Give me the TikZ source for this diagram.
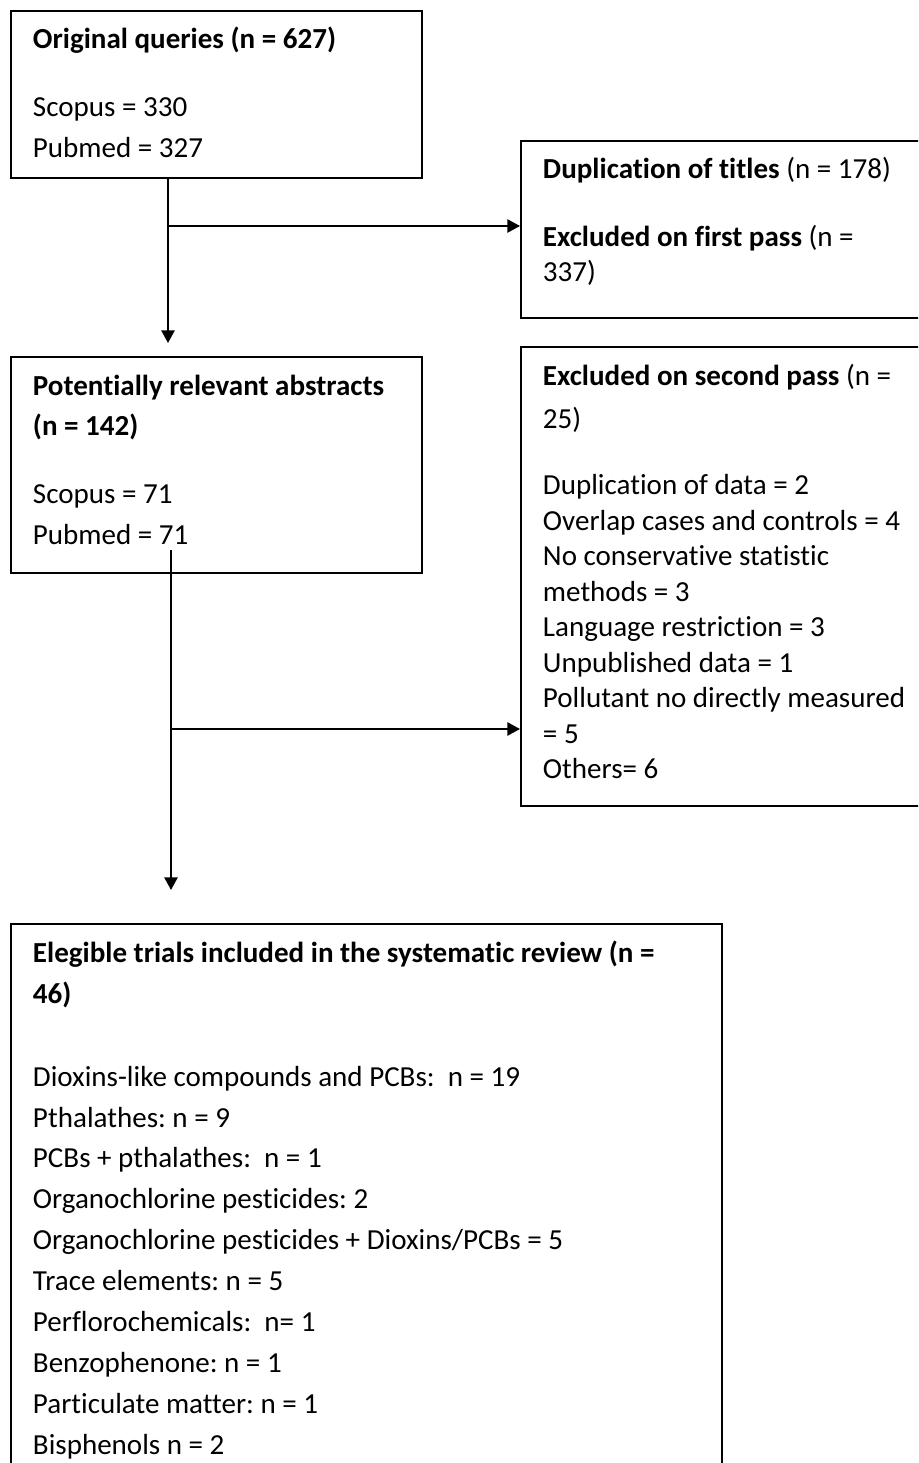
\documentclass[tikz,border=0pt]{standalone}
\usepackage{fontspec}
\setmainfont{Carlito}[Ligatures={NoCommon}]
\usetikzlibrary{positioning,calc,arrows.meta}
\frenchspacing

\newcommand{\boxlines}[4]{\parbox[t][#2][t]{#1}{\setlength{\baselineskip}{#3}\rule{0pt}{14.4pt}#4}}

\begin{document}
\begin{tikzpicture}[
				x=0.3788pt, y=-0.3788pt,
				block/.style={rectangle, draw=black, line width=0.75pt, anchor=north west, inner xsep=8.33pt, inner ysep=0pt, font=\fontsize{11}{13.4}\selectfont}
			]
			\useasboundingbox (0,0) rectangle (918,1463);
			\clip (0,0) rectangle (918,1463);
			\node[block] (queries) at (10,10) {\boxlines{139pt}{63.3pt}{15.5pt}{%
				\textbf{Original queries (n = 627)}\\[10.2pt]
				Scopus = 330\\
				Pubmed = 327}};
			\node[block] (duplicates) at (520,140) {\boxlines{140.5pt}{67pt}{13.6pt}{%
				\textbf{Duplication of titles} (n = 178)\\[11.8pt]
				\textbf{Excluded on first pass} (n =\\
				337)}};
			\node[block] (abstracts) at (10,356) {\boxlines{139pt}{81.8pt}{15.5pt}{%
				\textbf{Potentially relevant abstracts}\\
				\textbf{(n = 142)}\\[10.2pt]
				Scopus = 71\\
				Pubmed = 71}};
			\node[block] (secondpass) at (520,346) {\boxlines{140.5pt}{173.9pt}{13.45pt}{%
				\textbf{Excluded on second pass} (n =\\[3.2pt]
				25)\\[11.5pt]
				Duplication of data = 2\\
				Overlap cases and controls = 4\\
				No conservative statistic\\
				methods = 3\\
				Language restriction = 3\\
				Unpublished data = 1\\
				Pollutant no directly measured\\
				= 5\\
				Others= 6}};
			\node[block] (eligible) at (10,923) {\boxlines{252.7pt}{227.3pt}{15.5pt}{%
				\textbf{Elegible trials included in the systematic review (n =}\\[0.4pt]
				\textbf{46)}\\[15.6pt]
				Dioxins-like compounds and PCBs:\ \ n = 19\\
				Pthalathes: n = 9\\
				PCBs + pthalathes:\ \ n = 1\\
				Organochlorine pesticides: 2\\
				Organochlorine pesticides + Dioxins/PCBs = 5\\
				Trace elements: n = 5\\
				Perflorochemicals:\ \ n= 1\\
				Benzophenone: n = 1\\
				Particulate matter: n = 1\\
				Bisphenols n = 2}};
			\coordinate (split1) at (168,226);
			\coordinate (split2) at (171,729);
			\begin{scope}[line width=0.75pt, -{Triangle[length=4.8pt, width=5pt]}]
			\draw[shorten >=4.9pt] (queries.south -| split1) -- (abstracts.north -| split1);
			\draw (split1) -- (split1 -| duplicates.west);
			\draw[shorten >=12.5pt] ($(abstracts.south -| split2)+(0,-24)$) -- (eligible.north -| split2);
			\draw (split2) -- (split2 -| secondpass.west);
			\end{scope}
			\end{tikzpicture}
\end{document}
